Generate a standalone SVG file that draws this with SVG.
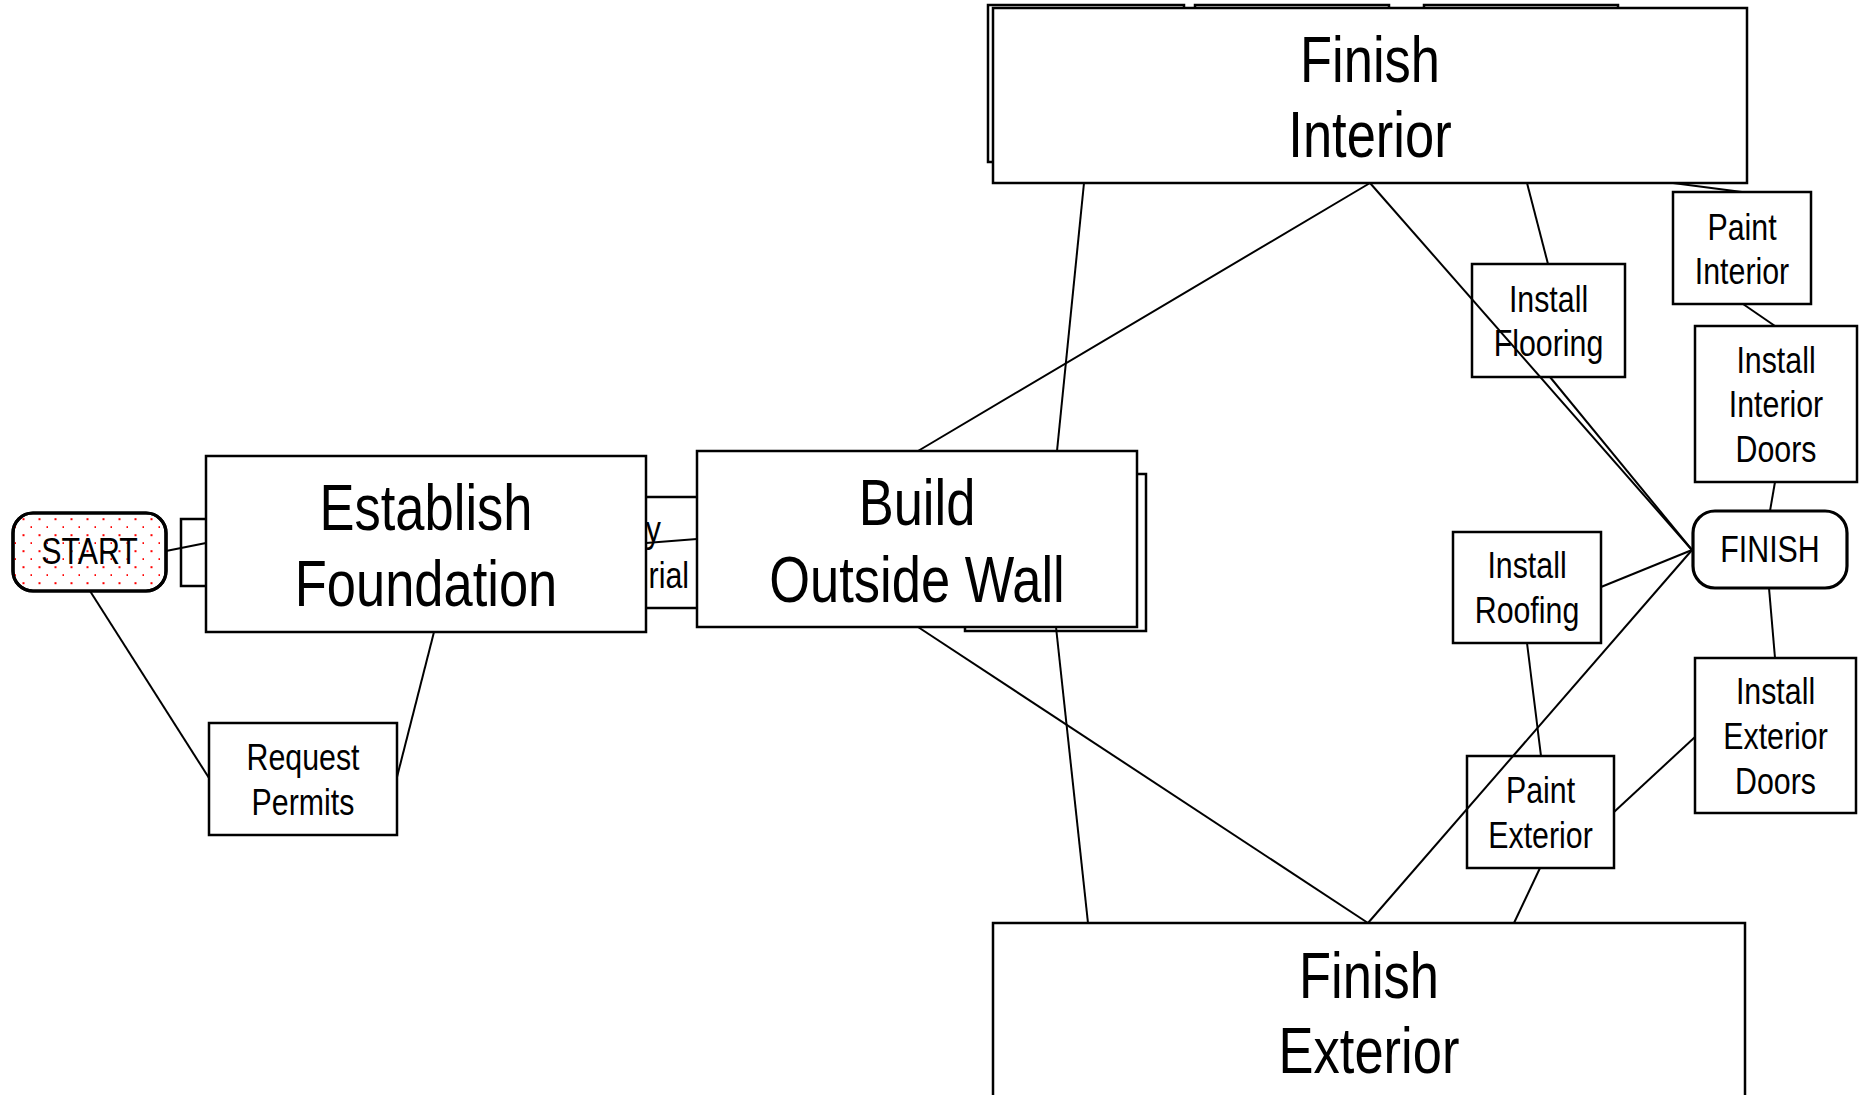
<svg xmlns="http://www.w3.org/2000/svg" width="1863" height="1095" viewBox="0 0 1863 1095">
  <defs>
    <!-- staggered red dot fill for the START terminal -->
    <pattern id="dots" patternUnits="userSpaceOnUse" width="16" height="16">
      <rect x="6.5" y="6.2" width="2" height="2" fill="#ff0000"/>
      <rect x="14.5" y="14.2" width="2" height="2" fill="#ff0000"/>
    </pattern>
    <style>
      .box { fill: #ffffff; stroke: #000000; stroke-width: 2.5; }
      .term { stroke: #000000; stroke-width: 3.2; }
      /* narrow sans: regular sans squeezed horizontally via transform on each label */
      .big { font-family: "Liberation Sans", Arial, sans-serif; font-size: 64px; fill: #000000; text-anchor: middle; }
      .small { font-family: "Liberation Sans", Arial, sans-serif; font-size: 37px; fill: #000000; text-anchor: middle; }
      .end { text-anchor: end; }
      .edge { stroke: #000000; stroke-width: 2; fill: none; }
    </style>
  </defs>

  <rect width="1863" height="1095" fill="#ffffff"/>

  <!-- boxes partly covered by others -->
  <g id="hidden-a"><rect class="box" x="181" y="519" width="80" height="67"/></g>
  <g id="hidden-b">
    <rect class="box" x="560" y="497" width="150" height="111"/>
    <text class="small end" transform="translate(661 542) scale(0.82 1)">y</text>
    <text class="small end" transform="translate(689 588) scale(0.82 1)">rial</text>
  </g>
  <g id="build-back"><rect class="box" x="965" y="474" width="181" height="157"/></g>
  <g id="interior-back">
    <rect class="box" x="988" y="5" width="196" height="157"/>
    <rect class="box" x="1195" y="5" width="194" height="157"/>
    <rect class="box" x="1424" y="5" width="194" height="157"/>
  </g>

  <!-- main nodes -->
  <g id="start">
    <rect class="term" x="13" y="513" width="153" height="78" rx="20" fill="#ffffff"/>
    <rect x="13" y="513" width="153" height="78" rx="20" fill="url(#dots)" stroke="#000000" stroke-width="3.2"/>
    <text class="small" transform="translate(89.5 564) scale(0.82 1)">START</text>
  </g>
  <g id="establish-foundation">
    <rect class="box" x="206" y="456" width="440" height="176"/>
    <text class="big" transform="translate(426 530) scale(0.82 1)">Establish</text>
    <text class="big" transform="translate(426 606) scale(0.82 1)">Foundation</text>
  </g>
  <g id="request-permits">
    <rect class="box" x="209" y="723" width="188" height="112"/>
    <text class="small" transform="translate(303 770) scale(0.82 1)">Request</text>
    <text class="small" transform="translate(303 815) scale(0.82 1)">Permits</text>
  </g>
  <g id="build-outside-wall">
    <rect class="box" x="697" y="451" width="440" height="176"/>
    <text class="big" transform="translate(917 525) scale(0.82 1)">Build</text>
    <text class="big" transform="translate(917 602) scale(0.82 1)">Outside Wall</text>
  </g>
  <g id="finish-interior">
    <rect class="box" x="993" y="8" width="754" height="175"/>
    <text class="big" transform="translate(1370 82) scale(0.82 1)">Finish</text>
    <text class="big" transform="translate(1370 157) scale(0.82 1)">Interior</text>
  </g>
  <g id="finish-exterior">
    <rect class="box" x="993" y="923" width="752" height="200"/>
    <text class="big" transform="translate(1369 998) scale(0.82 1)">Finish</text>
    <text class="big" transform="translate(1369 1073) scale(0.82 1)">Exterior</text>
  </g>
  <g id="paint-interior">
    <rect class="box" x="1673" y="192" width="138" height="112"/>
    <text class="small" transform="translate(1742 240) scale(0.82 1)">Paint</text>
    <text class="small" transform="translate(1742 284) scale(0.82 1)">Interior</text>
  </g>
  <g id="install-flooring">
    <rect class="box" x="1472" y="264" width="153" height="113"/>
    <text class="small" transform="translate(1548.5 312) scale(0.82 1)">Install</text>
    <text class="small" transform="translate(1548.5 356) scale(0.82 1)">Flooring</text>
  </g>
  <g id="install-interior-doors">
    <rect class="box" x="1695" y="326" width="162" height="156"/>
    <text class="small" transform="translate(1776 373) scale(0.82 1)">Install</text>
    <text class="small" transform="translate(1776 417) scale(0.82 1)">Interior</text>
    <text class="small" transform="translate(1776 462) scale(0.82 1)">Doors</text>
  </g>
  <g id="finish">
    <rect class="term" x="1693" y="511" width="154" height="77" rx="22" fill="#ffffff"/>
    <text class="small" transform="translate(1770 562) scale(0.82 1)">FINISH</text>
  </g>
  <g id="install-roofing">
    <rect class="box" x="1453" y="532" width="148" height="111"/>
    <text class="small" transform="translate(1527 578) scale(0.82 1)">Install</text>
    <text class="small" transform="translate(1527 623) scale(0.82 1)">Roofing</text>
  </g>
  <g id="install-exterior-doors">
    <rect class="box" x="1695" y="658" width="161" height="155"/>
    <text class="small" transform="translate(1775.5 704) scale(0.82 1)">Install</text>
    <text class="small" transform="translate(1775.5 749) scale(0.82 1)">Exterior</text>
    <text class="small" transform="translate(1775.5 794) scale(0.82 1)">Doors</text>
  </g>
  <g id="paint-exterior">
    <rect class="box" x="1467" y="756" width="147" height="112"/>
    <text class="small" transform="translate(1540.5 803) scale(0.82 1)">Paint</text>
    <text class="small" transform="translate(1540.5 848) scale(0.82 1)">Exterior</text>
  </g>

  <!-- connectors -->
  <g id="connectors" class="edge">
    <line x1="166" y1="551" x2="206" y2="543"/>
    <line x1="90" y1="591" x2="209" y2="778"/>
    <line x1="434" y1="632" x2="397" y2="777"/>
    <line x1="646" y1="543" x2="697" y2="539"/>
    <line x1="918" y1="451" x2="1370" y2="183"/>
    <line x1="918" y1="627" x2="1368" y2="923"/>
    <line x1="1057" y1="451" x2="1084" y2="183"/>
    <line x1="1056" y1="627" x2="1088" y2="923"/>
    <line x1="1370" y1="183" x2="1692" y2="550"/>
    <line x1="1550" y1="377" x2="1692" y2="550"/>
    <line x1="1527" y1="183" x2="1548" y2="264"/>
    <line x1="1673" y1="183" x2="1742" y2="192"/>
    <line x1="1743" y1="304" x2="1775" y2="326"/>
    <line x1="1775" y1="482" x2="1770" y2="511"/>
    <line x1="1769" y1="588" x2="1775" y2="658"/>
    <line x1="1601" y1="587" x2="1692" y2="550"/>
    <line x1="1527" y1="643" x2="1541" y2="756"/>
    <line x1="1614" y1="812" x2="1695" y2="737"/>
    <line x1="1368" y1="923" x2="1692" y2="550"/>
    <line x1="1540" y1="868" x2="1514" y2="923"/>
  </g>
</svg>
